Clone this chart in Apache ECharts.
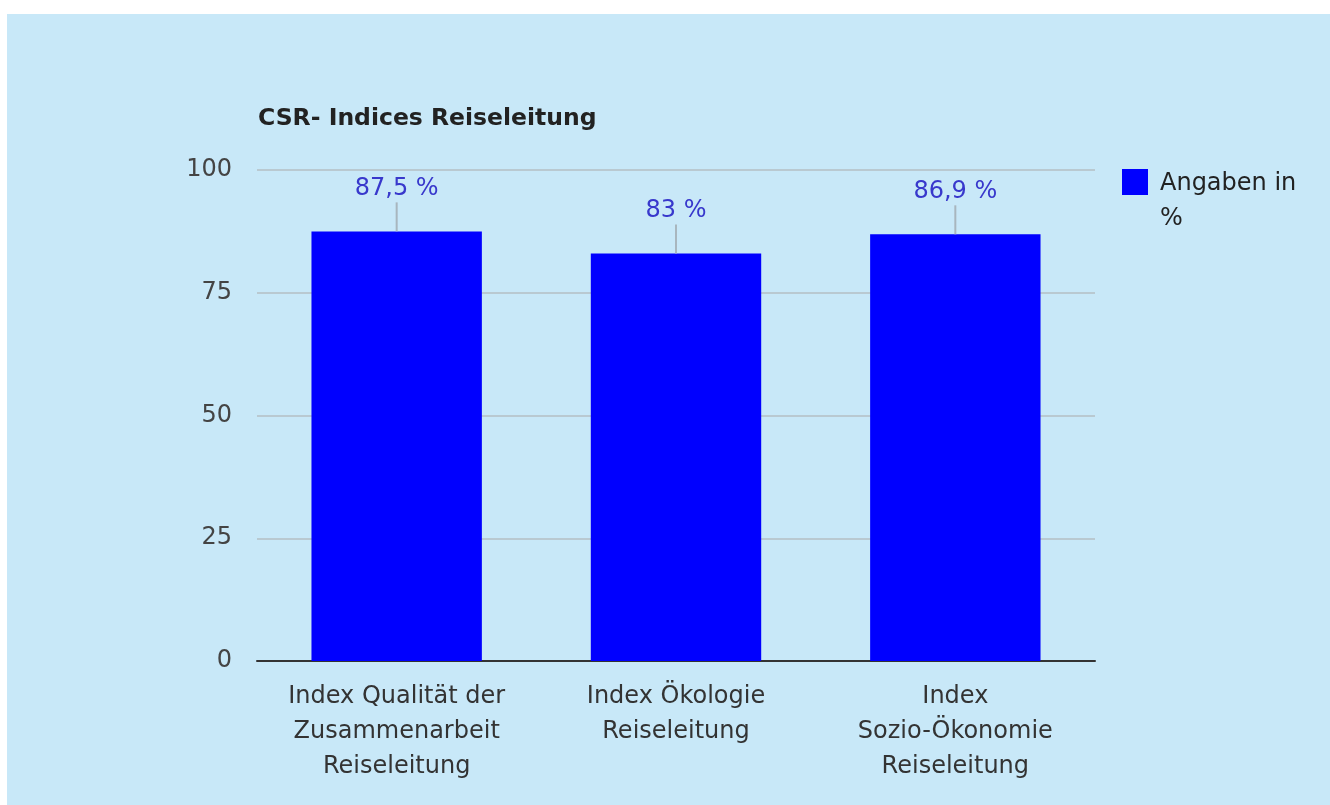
<!DOCTYPE html>
<html>
<head>
<meta charset="utf-8">
<script src="https://cdn.jsdelivr.net/npm/echarts@6/dist/echarts.min.js"></script>
<style>
  html, body { margin: 0; padding: 0; background: #ffffff; }
  #chart { position: absolute; left: 7px; top: 14px; width: 1323px; height: 791px; background: #c8e8f8; }
</style>
</head>
<body>
<div id="chart"></div>
<script>
// Chart content
const titleText = 'CSR- Indices Reiseleitung';
const seriesName = 'Angaben in %';
const categories = [
  'Index Qualität der\nZusammenarbeit\nReiseleitung',
  'Index Ökologie\nReiseleitung',
  'Index\nSozio-Ökonomie\nReiseleitung'
];
const values = [87.5, 83, 86.9];
const yTicks = [0, 25, 50, 75, 100];

const FONT = 'DejaVu Sans';

const chart = echarts.init(document.getElementById('chart'));

// Formats a value the German way: decimal comma and a percent sign
function pct(v) {
  return String(v).replace('.', ',') + ' %';
}

chart.setOption({
  backgroundColor: 'transparent',
  title: {
    text: titleText,
    left: 246,
    top: 88,
    textStyle: { fontFamily: FONT, fontSize: 23.5, fontWeight: 'bold', color: '#222' }
  },
  legend: {
    data: [seriesName],
    left: 1115,
    top: 132,
    padding: 0,
    orient: 'vertical',
    icon: 'rect',
    itemWidth: 26,
    itemHeight: 26,
    itemGap: 8,
    // legend label wraps under the swatch: an empty spacer line keeps the
    // first text line level with the swatch
    formatter: function () { return '{g| }\n{t|Angaben in}\n{t|%}'; },
    textStyle: {
      fontFamily: FONT, fontSize: 24, color: '#222',
      rich: {
        g: { fontSize: 2, lineHeight: 38 },
        t: { fontFamily: FONT, fontSize: 24, color: '#222', lineHeight: 35, padding: [0, 0, 0, 7] }
      }
    }
  },
  grid: { left: 250, right: 235, top: 156, bottom: 144, containLabel: false },
  xAxis: {
    type: 'category',
    data: categories,
    axisLine: { show: true, lineStyle: { color: '#333', width: 2 } },
    axisTick: { show: false },
    axisLabel: {
      interval: 0,
      margin: 18,
      fontFamily: FONT, fontSize: 24, color: '#333',
      lineHeight: 35
    }
  },
  yAxis: {
    type: 'value',
    min: 0,
    max: 100,
    interval: 25,
    axisLine: { show: false },
    axisTick: { show: false },
    splitLine: { lineStyle: { color: '#b9c9d1', width: 2 } },
    axisLabel: {
      margin: 25,
      fontFamily: FONT, fontSize: 24, color: '#444',
      formatter: function (v) { return yTicks.indexOf(v) >= 0 ? String(v) : ''; }
    }
  },
  series: [
    {
      name: seriesName,
      type: 'bar',
      data: values,
      barWidth: '61%',
      itemStyle: { color: '#0000ff' },
      label: {
        show: true,
        position: 'top',
        distance: 31,
        fontFamily: FONT, fontSize: 24, color: '#3838cc',
        formatter: function (p) { return pct(p.value); }
      },
      z: 2
    },
    {
      // Leader strokes that tie each value label to its bar
      name: 'leader',
      type: 'custom',
      data: values.map(function (v, i) { return [i, v]; }),
      renderItem: function (params, api) {
        const p = api.coord([api.value(0), api.value(1)]);
        return {
          type: 'line',
          shape: { x1: p[0], y1: p[1], x2: p[0], y2: p[1] - 29 },
          style: { stroke: '#a8b6be', lineWidth: 2 }
        };
      },
      silent: true,
      z: 3
    }
  ]
});
</script>
</body>
</html>
